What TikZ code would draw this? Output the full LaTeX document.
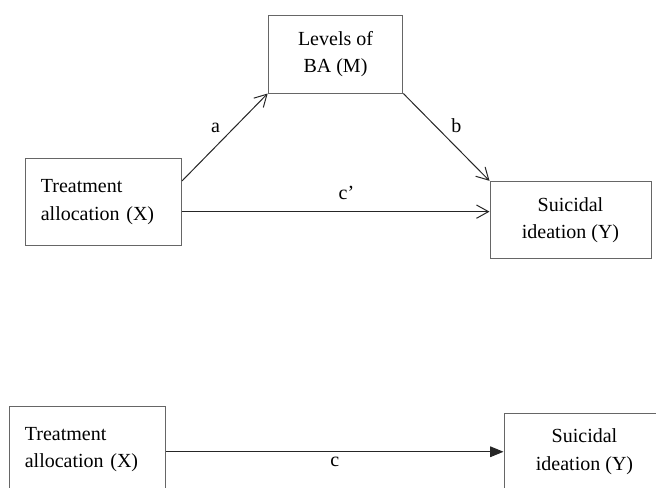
\documentclass[tikz,border=0pt]{standalone}
\usepackage{fontspec}
\setmainfont{Liberation Serif}
\usetikzlibrary{positioning,arrows.meta}

\begin{document}
\begin{tikzpicture}[x=0.75pt, y=-0.75pt,
    every node/.style={font=\fontsize{15}{20.6}\selectfont},
    varbox/.style={draw=black!60, line width=0.75pt, rectangle, align=center},
    xbox/.style={varbox, align=left, text width=94pt, inner xsep=11.5pt, minimum height=65pt},
    link/.style={-{Straight Barb[length=9pt,width=10pt]}, draw=black!85, line width=0.75pt},
    fulllink/.style={-{Triangle[length=10pt,width=8pt]}, draw=black!85, line width=0.75pt}]
    \path[use as bounding box, clip] (0,0) rectangle (656,487);

    % Mediation model
    \node[xbox] (topx) at (103.5,202) {Treatment\\allocation (X)};
    \node[varbox, minimum width=101pt, minimum height=58.5pt] (topm) at (335.5,54) {Levels of\\BA (M)};
    \node[varbox, minimum width=120.75pt, minimum height=58pt] (topy) at (570.5,220) {Suicidal\\ideation (Y)};

    \draw[link] (topx.15) -- node[above left] {a} (topm.south west);
    \draw[link] (topm.south east) -- node[above right] {b} (topy.north west);
    \draw[link] (topx.-7) -- node[above=5pt, xshift=8pt] {c’} (topx.-7 -| topy.west);

    % Total effect
    \node[xbox] (botx) at (87.5,449.5) {Treatment\\allocation (X)};
    \node[varbox, minimum width=120.75pt, minimum height=58pt] (boty) at (584.5,451.75) {Suicidal\\ideation (Y)};

    \draw[fulllink] (botx.east |- boty.west) -- node[below] {c} (boty.west);
\end{tikzpicture}
\end{document}
